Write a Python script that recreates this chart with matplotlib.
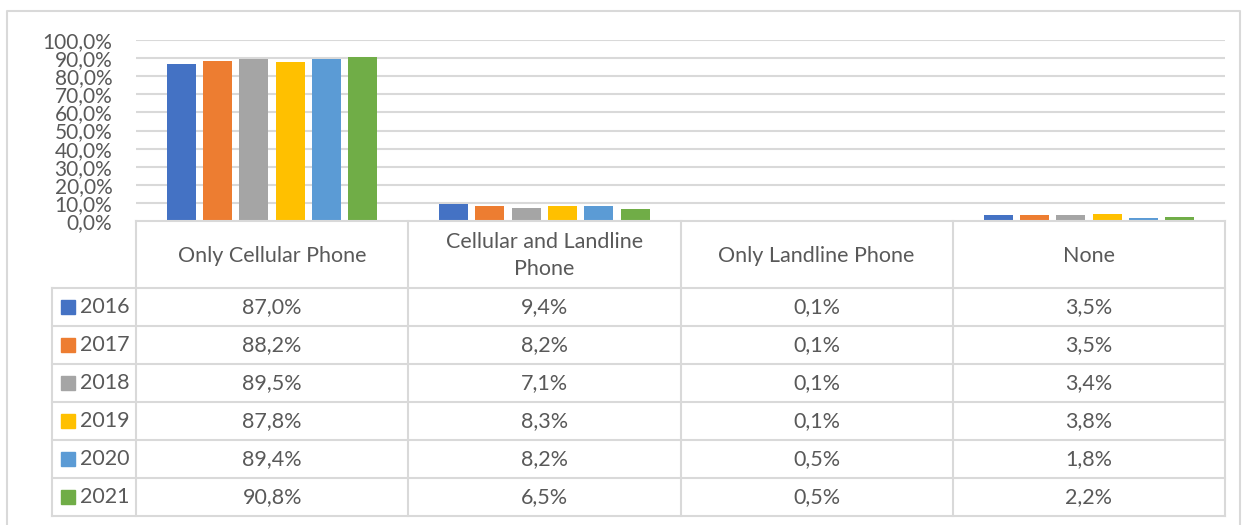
import matplotlib
matplotlib.use("Agg")
import matplotlib.pyplot as plt
import numpy as np

plt.rcParams["font.family"] = ["Lato", "DejaVu Sans"]

categories = ["Only Cellular Phone", "Cellular and Landline\nPhone", "Only Landline Phone", "None"]
years = ["2016", "2017", "2018", "2019", "2020", "2021"]
values = {
    "2016": [87.0, 9.4, 0.1, 3.5],
    "2017": [88.2, 8.2, 0.1, 3.5],
    "2018": [89.5, 7.1, 0.1, 3.4],
    "2019": [87.8, 8.3, 0.1, 3.8],
    "2020": [89.4, 8.2, 0.5, 1.8],
    "2021": [90.8, 6.5, 0.5, 2.2],
}
colors = ["#4472C4", "#ED7D31", "#A5A5A5", "#FFC000", "#5B9BD5", "#70AD47"]

W, H = 1248, 525
TXT = "#595959"
GRID = "#d9d9d9"
FS = 15.5

fig = plt.figure(figsize=(W / 100, H / 100), dpi=100)

# pixel geometry
x0, x1 = 136, 1225
y_top, y_zero = 40, 221
ax = fig.add_axes([x0 / W, 1 - y_zero / H, (x1 - x0) / W, (y_zero - y_top) / H])
ax.set_facecolor("none")

n = len(years)
stride = 36.3 / 272
bw = 29 / 272
x = np.arange(len(categories))
for i, yr in enumerate(years):
    ax.bar(x + (i - (n - 1) / 2) * stride, values[yr], bw, color=colors[i], zorder=3)

ax.set_xlim(-0.5, len(categories) - 0.5)
ax.set_ylim(0, 100)
ax.set_yticks(np.arange(0, 101, 10))
ax.set_yticklabels([f"{v:.1f}%".replace(".", ",") for v in np.arange(0, 101, 10)])
ax.tick_params(axis="y", length=0, pad=17, labelsize=15, labelcolor=TXT)
ax.set_xticks([])
for s in ax.spines.values():
    s.set_visible(False)
for v in np.arange(10, 101, 10):
    ax.axhline(v, color=GRID, lw=1.5, zorder=1)

# overlay in pixel coordinates for table and frame
ov = fig.add_axes([0, 0, 1, 1])
ov.set_xlim(0, W)
ov.set_ylim(H, 0)
ov.axis("off")
ov.set_facecolor("none")

# outer frame
ov.plot([7, 7, 1240, 1240], [530, 11, 11, 530], color=GRID, lw=1.5)

col_edges = np.linspace(x0, x1, len(categories) + 1)
hdr_bot = 288
row_h = 38
rows_bot = hdr_bot + row_h * n
lab_left = 52

# header row
ov.plot([x0, x0], [y_zero, rows_bot], color=GRID, lw=1.5)
ov.plot([x0, x1], [y_zero, y_zero], color=GRID, lw=1.5)
for ce in col_edges[1:]:
    ov.plot([ce, ce], [y_zero, rows_bot], color=GRID, lw=1.5)
for j, cat in enumerate(categories):
    cx = (col_edges[j] + col_edges[j + 1]) / 2
    ov.text(cx, (y_zero + hdr_bot) / 2 + 1, cat, ha="center", va="center",
            fontsize=FS, color=TXT, linespacing=1.45)

# body rows
ov.plot([lab_left, lab_left], [hdr_bot, rows_bot], color=GRID, lw=1.5)
for r in range(n + 1):
    yy = hdr_bot + r * row_h
    ov.plot([lab_left, x1], [yy, yy], color=GRID, lw=1.5)
for r, yr in enumerate(years):
    cy = hdr_bot + r * row_h + row_h / 2
    ov.add_patch(plt.Rectangle((61, cy - 7), 14, 14, color=colors[r]))
    ov.text(80, cy, yr, ha="left", va="center", fontsize=FS, color=TXT)
    for j in range(len(categories)):
        cx = (col_edges[j] + col_edges[j + 1]) / 2
        ov.text(cx, cy, f"{values[yr][j]:.1f}%".replace(".", ","), ha="center",
                va="center", fontsize=FS, color=TXT)

fig.savefig("out.png", dpi=100)
